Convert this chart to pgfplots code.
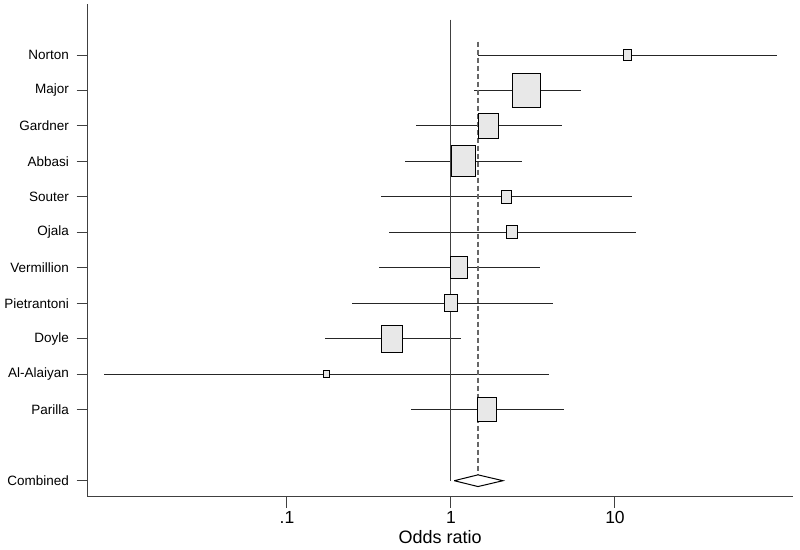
\documentclass[border=0pt]{standalone}
\usepackage{fontspec}
\setmainfont{Liberation Sans}
\usepackage{pgfplots}
\pgfplotsset{compat=1.18}
\usepackage{pgfplotstable}
\definecolor{axcol}{HTML}{404040}
\definecolor{boxfill}{HTML}{E8E8E8}
\pgfdeclareplotmark{orect}{%
  \pgfpathrectangle{\pgfqpoint{-\pgfplotmarksize}{-1.28\pgfplotmarksize}}{\pgfqpoint{2\pgfplotmarksize}{2.56\pgfplotmarksize}}%
  \pgfusepathqfillstroke}
\pgfplotstableread{
y est lo hi hw
-1 11.9 1.46 97.2 4.15
-2 2.89 1.387 6.21 13.65
-3 1.695 0.614 4.77 9.65
-4 1.19 0.526 2.72 12.15
-5 2.17 0.376 12.7 5.15
-6 2.36 0.42 13.5 5.15
-7 1.12 0.365 3.50 8.65
-8 1.0 0.249 4.16 6.65
-9 0.437 0.171 1.145 10.65
-10 0.174 0.00772 3.97 2.65
-11 1.665 0.573 4.91 9.35
}\studies
\pgfplotstableread{
x y
1.047 -13
1.461 -12.835
2.075 -13
1.461 -13.165
1.047 -13
}\combined
\begin{document}
\begin{tikzpicture}
\begin{axis}[
  scale only axis, width=705.5pt, height=492.7pt,
  xmode=log, xmin=0.00608, xmax=121.7,
  ymin=-13.451, ymax=0.438,
  axis x line*=bottom, axis y line*=left,
  axis line style={draw=axcol, line width=1pt, -},
  tick align=outside, major tick length=11pt,
  tick style={draw=axcol, line width=1pt},
  xtick={0.1,1,10}, xticklabels={.1,1,10},
  xminorticks=false, minor xtick={},
  ytick={-1,-2,-3,-4,-5,-6,-7,-8,-9,-10,-11,-13},
  yticklabels={Norton,Major,Gardner,Abbasi,Souter,Ojala,Vermillion,Pietrantoni,Doyle,Al-Alaiyan,Parilla,Combined},
  xticklabel style={font=\fontsize{17.5}{20}\selectfont},
  yticklabel style={font=\fontsize{13.5}{16}\selectfont, xshift=-4pt},
  xlabel={Odds ratio},
  xlabel style={font=\fontsize{18}{21}\selectfont},
]
% boxes
\addplot[scatter, only marks, mark=orect,
  scatter/use mapped color={draw=black, fill=boxfill},
  mark options={line width=1pt},
  visualization depends on={\thisrow{hw} \as \hw},
  scatter/@pre marker code/.append style={/tikz/mark size=\hw pt}]
  table[x=est, y=y] {\studies};
% confidence intervals
\addplot[draw=none, mark=none,
  error bars/.cd, x dir=both, x explicit, error mark=none,
  error bar style={draw=black!85, line width=1pt}]
  table[x=est, y=y,
    x error plus expr=\thisrow{hi}-\thisrow{est},
    x error minus expr=\thisrow{est}-\thisrow{lo}] {\studies};
% reference line at 1
\addplot[draw=axcol, line width=1pt] coordinates {(1,0) (1,-13)};
% combined estimate line
\addplot[draw=gray!80!black, line width=1.2pt, dash pattern=on 5pt off 3pt] coordinates {(1.461,-0.625) (1.461,-12.835)};
% combined diamond
\addplot[draw=black, fill=white, line width=1pt] table[x=x, y=y] {\combined};
\end{axis}
\pgfresetboundingbox
\useasboundingbox (-87.5pt,-52.3pt) rectangle (712.5pt,496.7pt);
\end{tikzpicture}
\end{document}
